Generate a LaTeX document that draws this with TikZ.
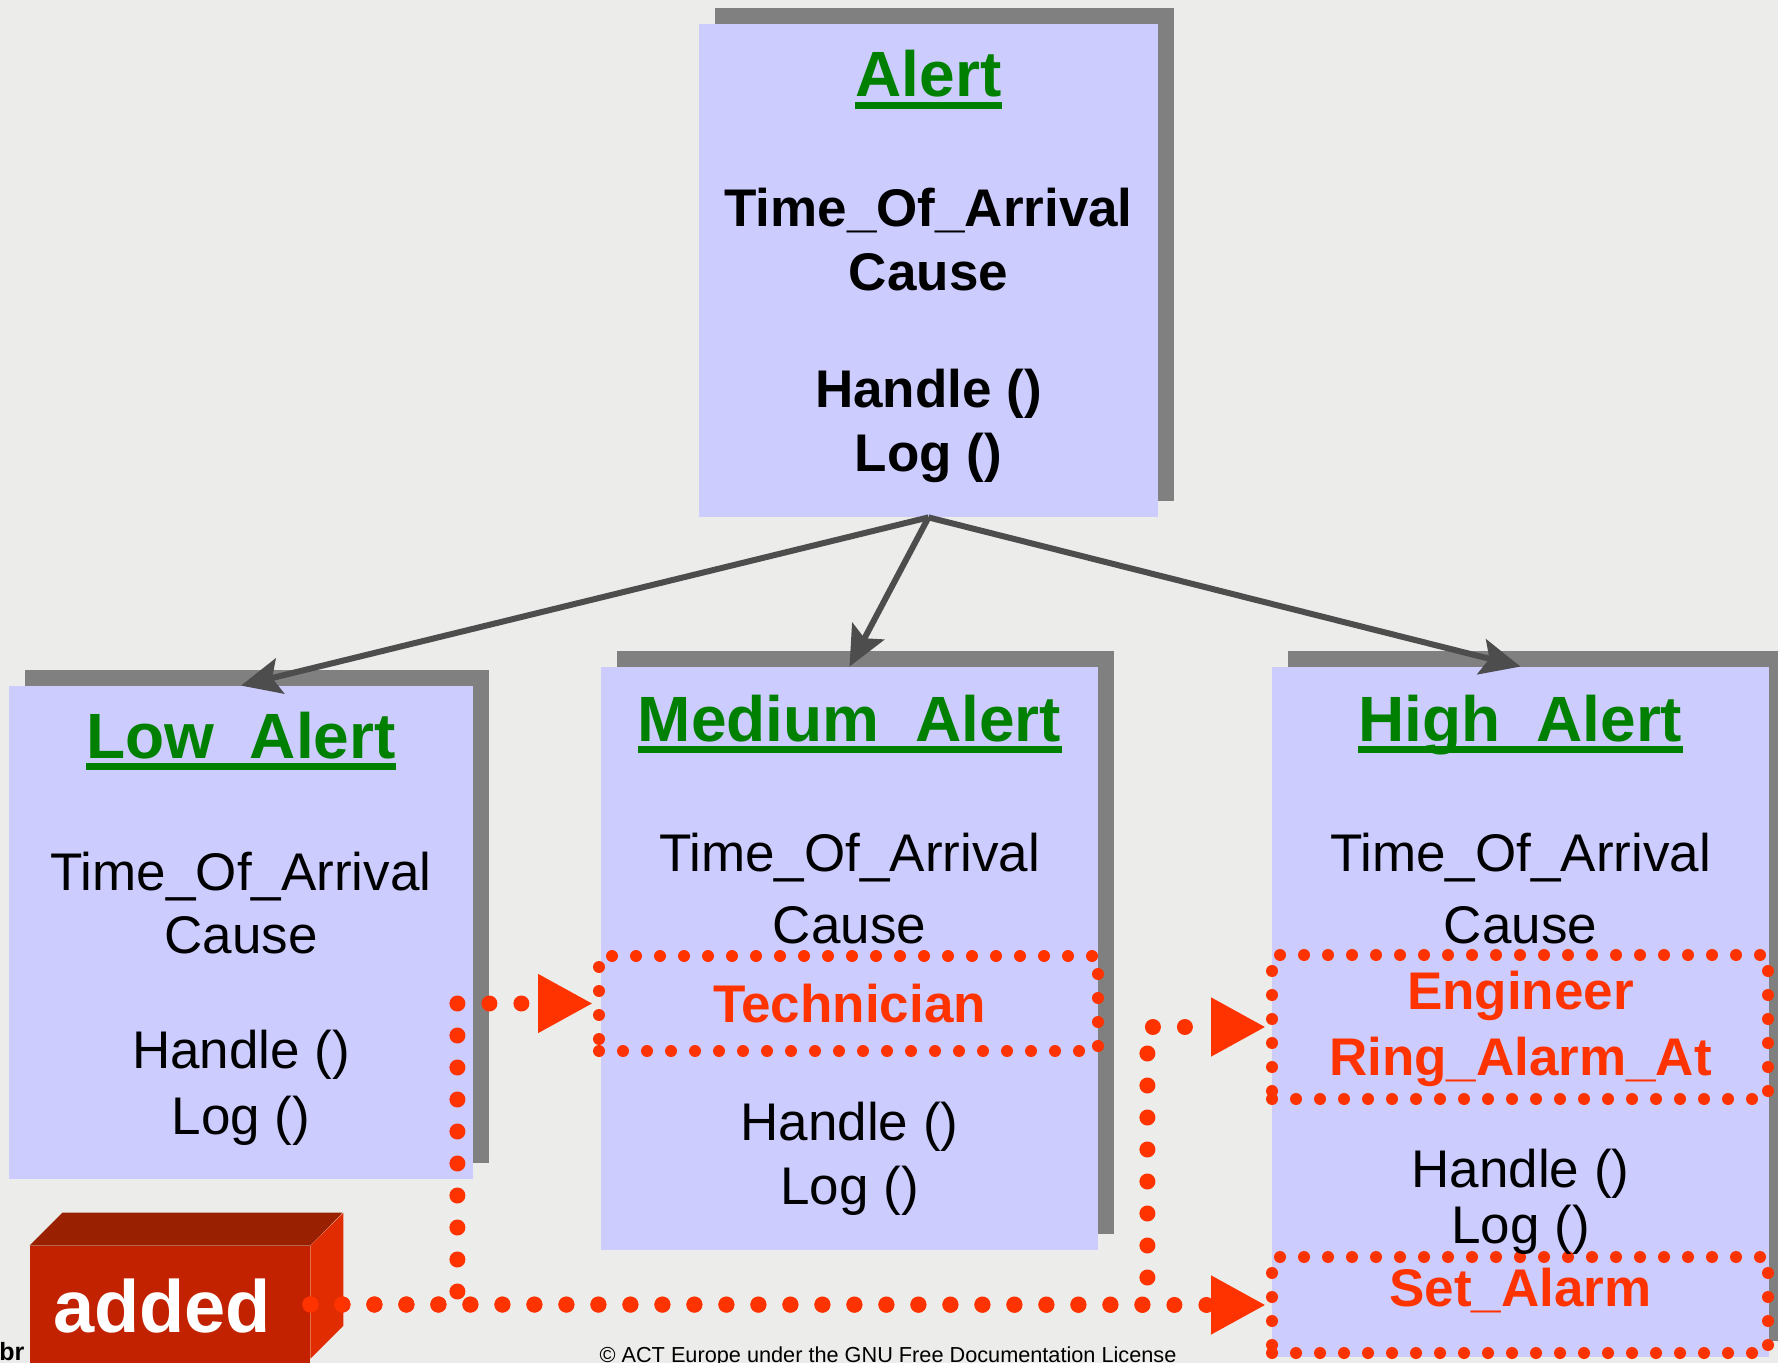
\documentclass[tikz,border=0pt]{standalone}
\usepackage{fontspec}
\setmainfont{Liberation Sans}
\usetikzlibrary{arrows.meta,fit,shadows}

\definecolor{paper}{RGB}{236,236,234}
\definecolor{boxblue}{RGB}{204,204,255}
\definecolor{shade}{RGB}{128,128,128}
\definecolor{titlegreen}{RGB}{0,128,0}
\definecolor{hot}{RGB}{255,51,0}
\definecolor{linkgray}{RGB}{77,77,77}
\definecolor{brickfront}{RGB}{194,34,0}
\definecolor{bricktop}{RGB}{153,32,0}
\definecolor{brickside}{RGB}{224,44,0}

\begin{document}
\begin{tikzpicture}[x=0.5pt,y=-0.5pt,
  classbox/.style={inner sep=0pt, fill=boxblue,
    drop shadow={shadow xshift=8pt, shadow yshift=8pt, fill=shade, opacity=1}},
  newpart/.style={inner sep=0pt, draw=hot, line width=6pt, line cap=round,
    dash pattern=on 0pt off 12pt},
  titletxt/.style={inner sep=0pt, anchor=base, text=titlegreen,
    font=\fontsize{32pt}{38pt}\selectfont\bfseries},
  attrbold/.style={inner sep=0pt, anchor=base,
    font=\fontsize{26.5pt}{32pt}\selectfont\bfseries},
  attr/.style={inner sep=0pt, anchor=base,
    font=\fontsize{26.5pt}{32pt}\selectfont},
  newattr/.style={inner sep=0pt, anchor=base, text=hot,
    font=\fontsize{26.5pt}{32pt}\selectfont\bfseries},
  uline/.style={titlegreen, line width=3.5pt},
  inherit/.style={linkgray, line width=3pt,
    -{Stealth[length=20pt,width=18pt,inset=4pt]}},
  flow/.style={hot, line width=8pt, line cap=round, dash pattern=on 0pt off 16pt,
    -{Triangle[length=27.5pt,width=27.5pt]}},
]
% page
\fill[paper] (0,0) rectangle (1778,1363);
\useasboundingbox (0,0) rectangle (1778,1363);

% class boxes
\node[classbox, fit={(699,24)(1158,517)}] (alert) {};
\node[classbox, fit={(9,686)(473,1179)}] (low) {};
\node[classbox, fit={(601,667)(1098,1250)}] (medium) {};
\node[classbox, fit={(1272,667)(1769,1357)}] (high) {};

% added attributes and operations
\node[newpart, fit={(599,956)(1098,1051)}] (techbox) {};
\node[newpart, fit={(1272,955)(1768,1099)}] (engbox) {};
\node[newpart, fit={(1272,1257)(1768,1353)}] (alarmbox) {};

% Alert
\node[titletxt] (alertT) at (928.5,97) {Alert};
\draw[uline] ([yshift=-4.25pt]alertT.base west) -- ([yshift=-4.25pt]alertT.base east);
\node[attrbold] (alertA1) at (928.5,227) {Time\_Of\_Arrival};
\node[attrbold] (alertA2) at (928.5,291) {Cause};
\node[attrbold] (alertO1) at (928.5,408) {Handle ()};
\node[attrbold] (alertO2) at (928.5,472) {Log ()};

% Low_Alert
\node[titletxt] (lowT) at (241,758) {Low\_Alert};
\draw[uline] ([yshift=-4.25pt]lowT.base west) -- ([yshift=-4.25pt]lowT.base east);
\node[attr] (lowA1) at (241,890) {Time\_Of\_Arrival};
\node[attr] (lowA2) at (241,953) {Cause};
\node[attr] (lowO1) at (241,1068) {Handle ()};
\node[attr] (lowO2) at (241,1134) {Log ()};

% Medium_Alert
\node[titletxt] (medT) at (849.5,741) {Medium\_Alert};
\draw[uline] ([yshift=-4.25pt]medT.base west) -- ([yshift=-4.25pt]medT.base east);
\node[attr] (medA1) at (849.5,871) {Time\_Of\_Arrival};
\node[attr] (medA2) at (849.5,943) {Cause};
\node[newattr] (medA3) at (849.5,1022) {Technician};
\node[attr] (medO1) at (849.5,1140) {Handle ()};
\node[attr] (medO2) at (849.5,1204) {Log ()};

% High_Alert
\node[titletxt] (highT) at (1520.5,741) {High\_Alert};
\draw[uline] ([yshift=-4.25pt]highT.base west) -- ([yshift=-4.25pt]highT.base east);
\node[attr] (highA1) at (1520.5,871) {Time\_Of\_Arrival};
\node[attr] (highA2) at (1520.5,943) {Cause};
\node[newattr] (highA3) at (1520.5,1009) {Engineer};
\node[newattr] (highA4) at (1520.5,1075) {Ring\_Alarm\_At};
\node[attr] (highO1) at (1520.5,1187) {Handle ()};
\node[attr] (highO2) at (1520.5,1243) {Log ()};
\node[newattr] (highO3) at (1520.5,1306) {Set\_Alarm};

% inheritance
\draw[inherit] (alert.south) -- (low.north);
\draw[inherit] (alert.south) -- (medium.north);
\draw[inherit] (alert.south) -- (high.north);

% footer text
\node[inner sep=0pt, anchor=base west, font=\fontsize{12.5pt}{15pt}\selectfont\bfseries]
  (brtxt) at (-1,1360) {br};
\node[inner sep=0pt, anchor=base, font=\fontsize{10.85pt}{13pt}\selectfont]
  (copy) at (888,1362) {\textcopyright\ ACT Europe under the GNU Free Documentation License};

% "added" block
\node[inner sep=0pt, fill=brickfront, fit={(30,1246)(310,1363)}] (addedbox) {};
\fill[bricktop] (addedbox.north west) -- ++(33,-33) -- ++(280,0)
  -- (addedbox.north east) -- cycle;
\fill[brickside] (addedbox.north east) -- ++(33,-33) -- ++(0,113)
  -- ++(-33,33) -- cycle;
\node[inner sep=0pt, anchor=base, text=white,
  font=\fontsize{37pt}{44pt}\selectfont\bfseries] (addedlbl) at (162,1332) {added};

% links from "added" to the new members
\draw[flow] (addedbox.east) -- ++(147,0) |- (techbox.west);
\draw[flow] (addedbox.east) -- ++(837,0) |- (engbox.west);
\draw[flow] (addedbox.east) -- (alarmbox.west);
\end{tikzpicture}
\end{document}
